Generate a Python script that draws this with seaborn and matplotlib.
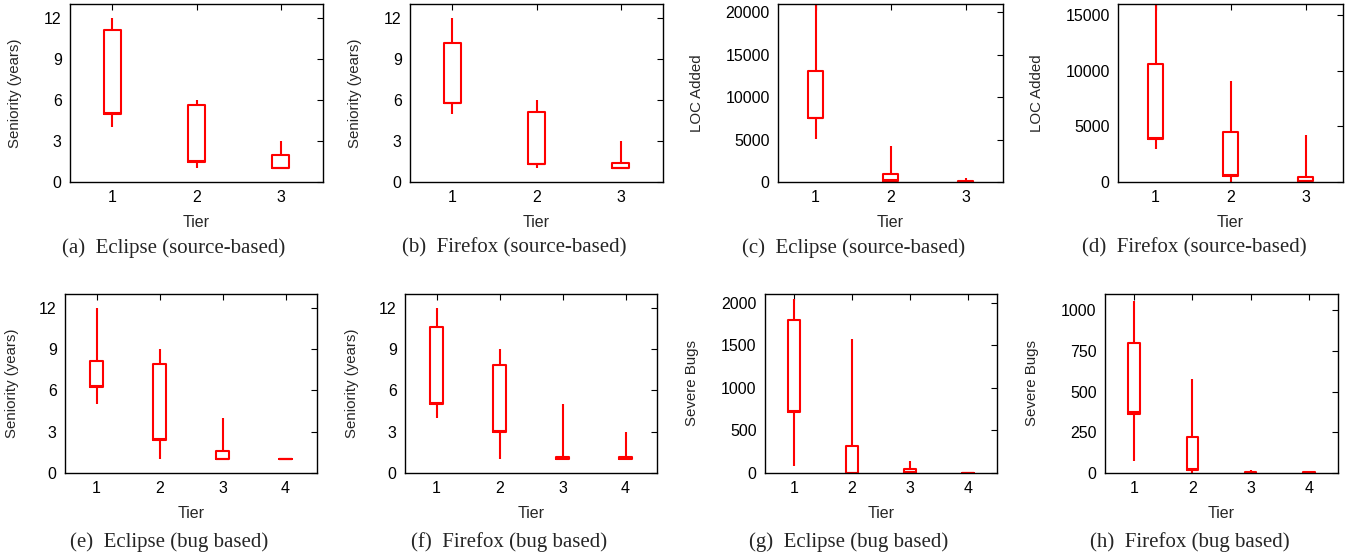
import numpy as np
import pandas as pd
import matplotlib
matplotlib.use("Agg")
import matplotlib.pyplot as plt
import seaborn as sns

# Five-number summaries per tier: [min, q1, median, q3, max]
tiers3 = [1, 2, 3]
tiers4 = [1, 2, 3, 4]

eclipse_src_seniority = [[4.0, 5.0, 5.05, 11.1, 12.0],
                         [1.0, 1.45, 1.5, 5.6, 6.0],
                         [1.0, 1.0, 1.0, 2.0, 3.0]]
firefox_src_seniority = [[5.0, 5.75, 5.8, 10.15, 12.0],
                         [1.0, 1.3, 1.35, 5.08, 6.0],
                         [1.0, 1.0, 1.0, 1.36, 3.0]]
eclipse_src_loc = [[5100, 7550, 7600, 13100, 21500],
                   [0, 150, 200, 950, 4300],
                   [0, 0, 20, 160, 430]]
firefox_src_loc = [[3000, 3900, 3950, 10600, 16500],
                   [0, 580, 620, 4500, 9100],
                   [0, 60, 80, 450, 4200]]
eclipse_bug_seniority = [[5.0, 6.25, 6.3, 8.1, 12.0],
                         [1.0, 2.4, 2.45, 7.9, 9.0],
                         [1.0, 1.0, 1.05, 1.58, 4.0],
                         [1.0, 1.0, 1.0, 1.0, 1.0]]
firefox_bug_seniority = [[4.0, 5.0, 5.05, 10.6, 12.0],
                         [1.0, 3.0, 3.05, 7.85, 9.0],
                         [1.0, 1.04, 1.06, 1.16, 5.0],
                         [1.0, 1.04, 1.06, 1.16, 3.0]]
eclipse_bug_severe = [[85, 715, 722, 1800, 2040],
                      [0, 0, 5, 315, 1570],
                      [0, 0, 8, 43, 140],
                      [0, 0, 1, 3, 5]]
firefox_bug_severe = [[75, 365, 372, 800, 1060],
                      [0, 18, 24, 220, 575],
                      [0, 0, 2, 5, 20],
                      [0, 0, 1, 4, 6]]

ylabels = ["Seniority (years)", "Seniority (years)", "LOC Added", "LOC Added",
           "Seniority (years)", "Seniority (years)", "Severe Bugs", "Severe Bugs"]
captions = ["(a)  Eclipse (source-based)", "(b)  Firefox (source-based)",
            "(c)  Eclipse (source-based)", "(d)  Firefox (source-based)",
            "(e)  Eclipse (bug based)", "(f)  Firefox (bug based)",
            "(g)  Eclipse (bug based)", "(h)  Firefox (bug based)"]
ylims = [13, 13, 21000, 16000, 13, 13, 2100, 1100]
yticks = [[0, 3, 6, 9, 12], [0, 3, 6, 9, 12],
          [0, 5000, 10000, 15000, 20000], [0, 5000, 10000, 15000],
          [0, 3, 6, 9, 12], [0, 3, 6, 9, 12],
          [0, 500, 1000, 1500, 2000], [0, 250, 500, 750, 1000]]

panels = [(tiers3, eclipse_src_seniority), (tiers3, firefox_src_seniority),
          (tiers3, eclipse_src_loc), (tiers3, firefox_src_loc),
          (tiers4, eclipse_bug_seniority), (tiers4, firefox_bug_seniority),
          (tiers4, eclipse_bug_severe), (tiers4, firefox_bug_severe)]

# axes boxes in pixels: left, right, top, bottom
W, H = 1353, 560
boxes = [(70, 323, 4, 182), (410, 663, 4, 182), (778, 1003, 4, 182), (1118, 1343, 4, 182),
         (65, 317, 294, 473), (405, 657, 294, 473), (765, 997, 294, 473), (1105, 1338, 294, 473)]
caption_xy = [(174, 248), (514, 248), (854, 248), (1194, 248),
              (169, 542), (509, 542), (849, 542), (1190, 542)]
ylabel_x = [15, 355, 697, 1037, 12, 352, 692, 1032]

sns.set_theme(style="white")
plt.rcParams['font.family'] = ['Liberation Sans', 'DejaVu Sans']

fig = plt.figure(figsize=(W / 100, H / 100), dpi=100)
RED = "#ff0000"

for i, ((tiers, summ), box) in enumerate(zip(panels, boxes)):
    l, r, t, b = box
    ax = fig.add_axes([l / W, 1 - b / H, (r - l) / W, (b - t) / H])
    rows = []
    for tier, s in zip(tiers, summ):
        for v in s:
            rows.append({"Tier": tier, "value": v})
    df = pd.DataFrame(rows)
    sns.boxplot(data=df, x="Tier", y="value", native_scale=True, width=0.2,
                whis=(0, 100), fill=False, color=RED, showcaps=False,
                linewidth=1.5, ax=ax,
                medianprops=dict(color=RED, linewidth=1.5),
                whiskerprops=dict(color=RED, linewidth=1.5),
                boxprops=dict(color=RED, linewidth=1.5))
    ax.set_xlim(0.5, len(tiers) + 0.5)
    ax.set_ylim(0, ylims[i])
    ax.set_xticks(tiers)
    ax.set_xticklabels([str(t) for t in tiers])
    ax.set_yticks(yticks[i])
    ax.tick_params(direction="in", top=True, right=True, length=4, width=0.8,
                   labelsize=11.5, colors="black", pad=6)
    for sp in ax.spines.values():
        sp.set_color("black")
        sp.set_linewidth(1.0)
    ax.set_xlabel("Tier", fontsize=11.5, labelpad=7)
    ax.set_ylabel(ylabels[i], fontsize=10.8)
    ax.yaxis.set_label_coords(ylabel_x[i] / W, 1 - (t + b) / 2 / H,
                              transform=fig.transFigure)
    ax.yaxis.label.set_verticalalignment("center")
    ax.grid(False)
    cx, cy = caption_xy[i]
    fig.text(cx / W, 1 - cy / H, captions[i], ha="center", va="center",
             fontsize=15, family=["Liberation Serif", "DejaVu Serif"])

fig.savefig("out.png", dpi=100)
